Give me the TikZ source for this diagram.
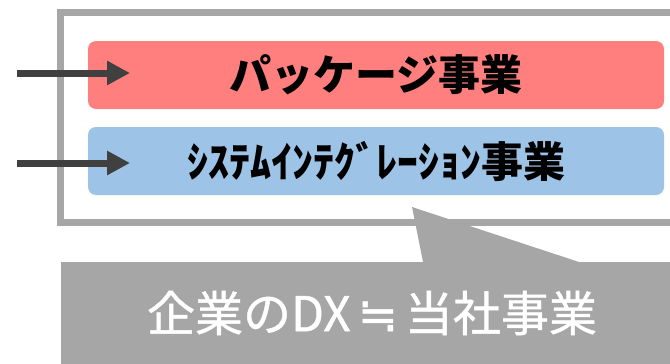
\documentclass[tikz,border=0pt]{standalone}
\usepackage{fontspec}
\newfontfamily\jpfont{Noto Sans CJK JP}
\newfontfamily\jpmedfont[FakeBold=0.9]{Noto Sans CJK JP}
\newfontfamily\symfont[FakeBold=0.9]{DejaVu Sans}
\usetikzlibrary{arrows.meta}
\definecolor{pinkbox}{HTML}{FF7F7F}
\definecolor{bluebox}{HTML}{9DC3E6}
\definecolor{framegray}{HTML}{A6A6A6}
\definecolor{arrowgray}{HTML}{404040}
\tikzset{
  bizbox/.style={rounded corners=8pt, minimum width=576pt, minimum height=68pt, inner sep=0pt, text=black,
    font=\jpfont\bfseries\fontsize{42}{50}\selectfont},
  inarrow/.style={draw=arrowgray, line width=7pt, -{Triangle[length=23pt,width=23pt]}},
}
\begin{document}
\begin{tikzpicture}[x=1pt,y=-1pt]
\useasboundingbox (0,0) rectangle (670,364);
\clip (0,0) rectangle (670,364);
% outer frame
\draw[framegray, line width=7pt] (60,12) rectangle (720,222);
% boxes
\node[bizbox, fill=pinkbox] (pkg) at (376,75) {パッケージ事業};
\node[bizbox, fill=bluebox] (si) at (376,161) {ｼｽﾃﾑｲﾝﾃｸﾞﾚｰｼｮﾝ事業};
% arrows
\coordinate (a1) at (17,73);
\coordinate (a1e) at (130,73);
\coordinate (a2) at (17,163);
\coordinate (a2e) at (130,163);
\draw[inarrow] (a1) -- (a1e);
\draw[inarrow] (a2) -- (a2e);
% callout
\fill[framegray] (61,262) -- (423,262) -- (412,207) -- (579,262) -- (720,262) -- (720,380) -- (61,380) -- cycle;
\node[text=white, font=\jpmedfont\fontsize{48}{56}\selectfont, inner sep=0pt] (dx) at (372,313) {企業のDX\hspace{7pt}{\symfont ≒}\hspace{7pt}当社事業};
\end{tikzpicture}
\end{document}
